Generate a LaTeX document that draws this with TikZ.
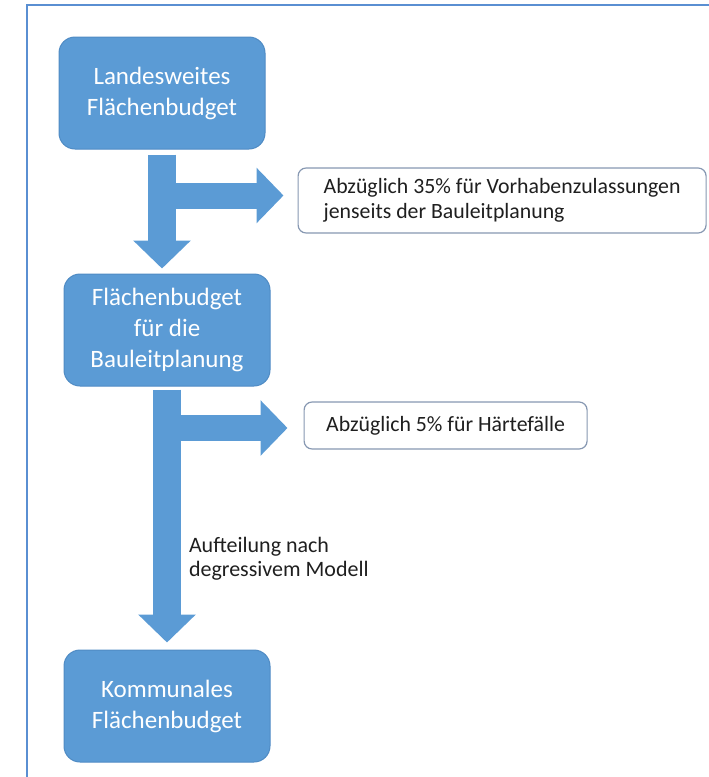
\documentclass[tikz,border=0pt]{standalone}
\usepackage{fontspec}
\setsansfont{Carlito}
\usetikzlibrary{positioning, arrows.meta, calc}
\definecolor{boxblue}{HTML}{5B9BD5}
\definecolor{boxedge}{HTML}{4F8BC4}
\definecolor{frameblue}{HTML}{5A8FD2}
\definecolor{noteedge}{HTML}{8798B2}

\begin{document}
\begin{tikzpicture}[
  x=1pt, y=1pt, font=\sffamily,
  budget/.style={rounded corners=16pt, draw=boxedge, line width=1pt, fill=boxblue, text=white, align=center,
                 minimum width=206pt, minimum height=112pt, inner sep=0pt, font=\sffamily\fontsize{25}{31}\selectfont},
  note/.style  ={rounded corners=8pt, draw=noteedge, line width=1.2pt, fill=white, text=black!88, align=left,
                 inner sep=0pt, font=\sffamily\fontsize{21.8}{25}\selectfont},
  lbl/.style   ={text=black!88, align=left, inner sep=0pt, font=\sffamily\fontsize{22}{24}\selectfont},
  down/.style  ={line width=28pt, draw=boxblue, -{Triangle[length=28pt, width=56pt]}},
  side/.style  ={line width=26pt, draw=boxblue, -{Triangle[length=27pt, width=54pt]}},
  frame/.style ={line width=2.5pt, draw=frameblue},
]
\useasboundingbox (0,0) rectangle (709,-777);

% ---------- frame ----------
\draw[frame] (27,-777) -- (27,-5) -- (712,-5);

% ---------- budgets ----------
\node[budget] (landes) at (162,-93) {Landesweites\\Flächenbudget};
\node[budget, below=124pt of landes, xshift=5pt] (plan) {Flächenbudget\\für die\\Bauleitplanung};
\node[budget, below=263pt of plan] (kommunal) {Kommunales\\Flächenbudget};

% ---------- deductions ----------
\node[note, right=32pt of landes, yshift=-107.5pt, minimum width=408pt, minimum height=65pt] (abzug35)
  {Abzüglich 35\% für Vorhabenzulassungen\\jenseits der Bauleitplanung};
\node[note, right=33pt of plan, yshift=-95.5pt, minimum width=283pt, minimum height=47pt] (abzug5)
  {Abzüglich 5\% für Härtefälle};

% ---------- flows ----------
\coordinate (fork1) at ($(landes.south)+(0,-46)$);
\coordinate (fork2) at ($(plan.south)+(0,-41.5)$);
\draw[side, shorten >=14pt] (fork1) -- (fork1 -| abzug35.west);
\draw[side, shorten >=16pt] (fork2) -- (fork2 -| abzug5.west);
\draw[down, shorten <=5pt, shorten >=5pt] (landes.south) -- (landes.south |- plan.north);
\draw[down, shorten <=3pt, shorten >=7pt] (plan.south) -- node[lbl, pos=0.654, anchor=west, xshift=8pt] (aufteil)
  {Aufteilung nach\\degressivem Modell} (kommunal.north);

\end{tikzpicture}
\end{document}
